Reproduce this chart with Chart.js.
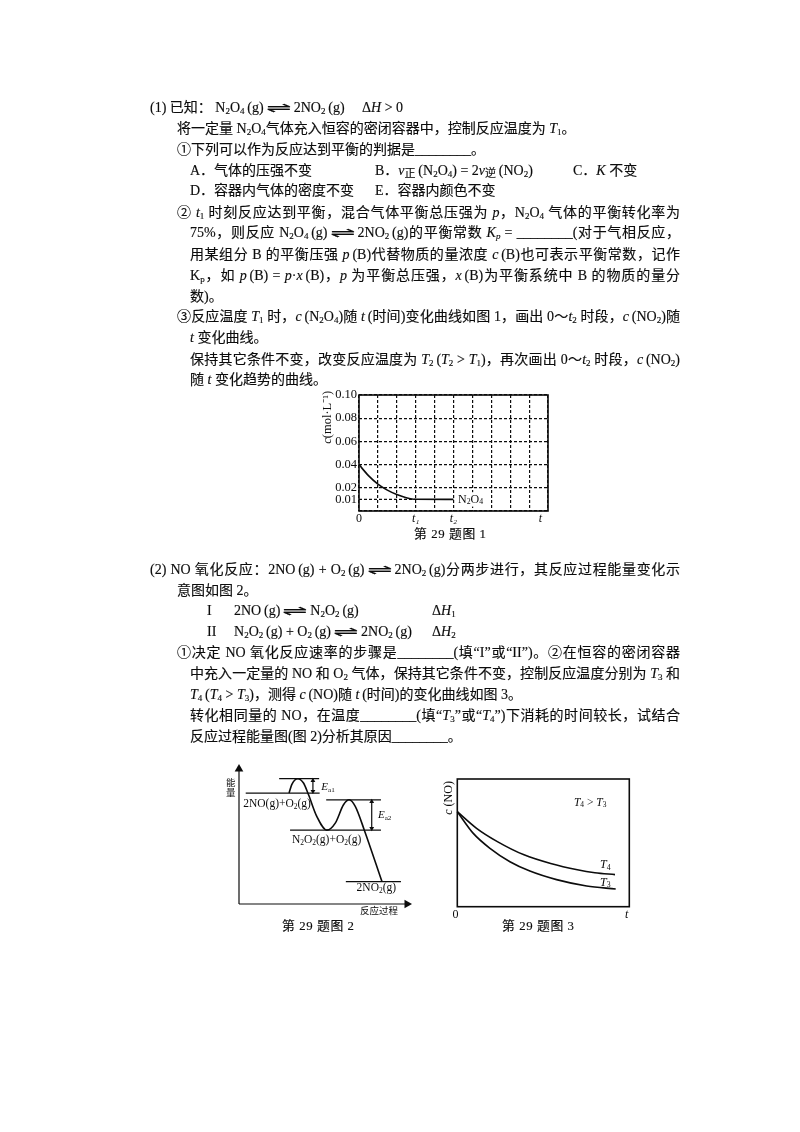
<!DOCTYPE html>
<html lang="zh">
<head>
<meta charset="utf-8">
<title>第 29 题</title>
<script src="https://cdn.jsdelivr.net/npm/chart.js@4/dist/chart.umd.min.js"></script>
<style>
html, body { margin: 0; padding: 0; background: #fff; }
#page { position: relative; width: 800px; height: 1132px; overflow: hidden; filter: blur(0.45px); color: #0c0c0c;
  font-family: "Liberation Serif", "Noto Sans CJK SC", serif; font-size: 14px; line-height: 20px; -webkit-text-stroke: 0.15px #0c0c0c; }
#page p { position: absolute; margin: 0; white-space: nowrap; }
#page p.full { white-space: normal; text-align: justify; text-align-last: justify; }
#page sub { font-size: 9px; line-height: 0; vertical-align: -2px; }
#page sub.cn { font-size: 11px; }
#page i { font-style: italic; }
#page .eq { display: inline-block; width: 26px; margin: 0 2px; text-align: center; text-align-last: center; font-family: "DejaVu Sans"; font-size: 13px; line-height: 12px; transform: scaleX(2.3); }
.cap { font-size: 12.8px; letter-spacing: 0.6px; }
canvas { position: absolute; }
</style>
</head>
<body>
<div id="page">
<p style="top:98px;left:150px">(1) 已知：&nbsp;N<sub>2</sub>O<sub>4</sub>&thinsp;(g)<span class="eq">⇌</span>2NO<sub>2</sub>&thinsp;(g)</p>
<p style="top:98px;left:362px">Δ<i>H</i> &gt; 0</p>
<p style="top:119px;left:177px">将一定量 N<sub>2</sub>O<sub>4</sub>气体充入恒容的密闭容器中，控制反应温度为 <i>T</i><sub>1</sub>。</p>
<p style="top:140px;left:177px">①下列可以作为反应达到平衡的判据是________。</p>
<p style="top:161px;left:190px">A．气体的压强不变</p>
<p style="top:161px;left:375px">B．<i>v</i><sub class="cn">正</sub>&thinsp;(N<sub>2</sub>O<sub>4</sub>) = 2<i>v</i><sub class="cn">逆</sub>&thinsp;(NO<sub>2</sub>)</p>
<p style="top:161px;left:573px">C．<i>K</i> 不变</p>
<p style="top:181px;left:190px">D．容器内气体的密度不变</p>
<p style="top:181px;left:375px">E．容器内颜色不变</p>
<p class="full" style="top:203px;left:177px;width:503px">② <i>t</i><sub>1</sub> 时刻反应达到平衡，混合气体平衡总压强为 <i>p</i>，N<sub>2</sub>O<sub>4</sub> 气体的平衡转化率为</p>
<p class="full" style="top:223px;left:190px;width:490px">75%，则反应 N<sub>2</sub>O<sub>4</sub>&thinsp;(g)<span class="eq">⇌</span>2NO<sub>2</sub>&thinsp;(g)的平衡常数 <i>K<sub>p</sub></i> = ________(对于气相反应，</p>
<p class="full" style="top:245px;left:190px;width:490px">用某组分 B 的平衡压强 <i>p</i>&thinsp;(B)代替物质的量浓度 <i>c</i>&thinsp;(B)也可表示平衡常数，记作</p>
<p class="full" style="top:266px;left:190px;width:490px">K<sub>p</sub>，如 <i>p</i>&thinsp;(B) = <i>p</i>·<i>x</i>&thinsp;(B)，<i>p</i> 为平衡总压强，<i>x</i>&thinsp;(B)为平衡系统中 B 的物质的量分</p>
<p style="top:287px;left:190px">数)。</p>
<p class="full" style="top:307px;left:177px;width:503px">③反应温度 <i>T</i><sub>1</sub> 时，<i>c</i>&thinsp;(N<sub>2</sub>O<sub>4</sub>)随 <i>t</i>&thinsp;(时间)变化曲线如图 1，画出 0～<i>t</i><sub>2</sub> 时段，<i>c</i>&thinsp;(NO<sub>2</sub>)随</p>
<p style="top:328px;left:190px"><i>t</i> 变化曲线。</p>
<p class="full" style="top:350px;left:190px;width:490px">保持其它条件不变，改变反应温度为 <i>T</i><sub>2</sub>&thinsp;(<i>T</i><sub>2</sub> &gt; <i>T</i><sub>1</sub>)，再次画出 0～<i>t</i><sub>2</sub> 时段，<i>c</i>&thinsp;(NO<sub>2</sub>)</p>
<p style="top:370px;left:190px">随 <i>t</i> 变化趋势的曲线。</p>
<p class="cap" style="top:524px;left:414px">第 29 题图 1</p>

<p class="full" style="top:560px;left:150px;width:530px">(2) NO 氧化反应：2NO&thinsp;(g) + O<sub>2</sub>&thinsp;(g)<span class="eq">⇌</span>2NO<sub>2</sub>&thinsp;(g)分两步进行，其反应过程能量变化示</p>
<p style="top:581px;left:177px">意图如图 2。</p>
<p style="top:601px;left:207px">I</p>
<p style="top:601px;left:234px">2NO&thinsp;(g)<span class="eq">⇌</span>N<sub>2</sub>O<sub>2</sub>&thinsp;(g)</p>
<p style="top:601px;left:432px">Δ<i>H</i><sub>1</sub></p>
<p style="top:622px;left:207px">II</p>
<p style="top:622px;left:234px">N<sub>2</sub>O<sub>2</sub>&thinsp;(g) + O<sub>2</sub>&thinsp;(g)<span class="eq">⇌</span>2NO<sub>2</sub>&thinsp;(g)</p>
<p style="top:622px;left:432px">Δ<i>H</i><sub>2</sub></p>
<p class="full" style="top:643px;left:177px;width:503px">①决定 NO 氧化反应速率的步骤是________(填“I”或“II”)。②在恒容的密闭容器</p>
<p class="full" style="top:664px;left:190px;width:490px">中充入一定量的 NO 和 O<sub>2</sub> 气体，保持其它条件不变，控制反应温度分别为 <i>T</i><sub>3</sub> 和</p>
<p style="top:685px;left:190px"><i>T</i><sub>4</sub>&thinsp;(<i>T</i><sub>4</sub> &gt; <i>T</i><sub>3</sub>)，测得 <i>c</i>&thinsp;(NO)随 <i>t</i>&thinsp;(时间)的变化曲线如图 3。</p>
<p class="full" style="top:706px;left:190px;width:490px">转化相同量的 NO，在温度________(填“<i>T</i><sub>3</sub>”或“<i>T</i><sub>4</sub>”)下消耗的时间较长，试结合</p>
<p style="top:727px;left:190px">反应过程能量图(图 2)分析其原因________。</p>
<p class="cap" style="top:916px;left:282px">第 29 题图 2</p>
<p class="cap" style="top:916px;left:502px">第 29 题图 3</p>

<canvas id="fig1" width="250" height="145" style="left:310px;top:385px"></canvas>
<canvas id="fig2" width="210" height="156" style="left:215px;top:760px"></canvas>
<canvas id="fig3" width="200" height="150" style="left:440px;top:770px"></canvas>
</div>
<script>
// figure 1: c(N2O4) against t
const fig1Times = [0, 0.5, 1, 1.5, 2, 2.5, 3, 5];
const fig1Conc = [0.04, 0.0305, 0.0232, 0.018, 0.0142, 0.0115, 0.0101, 0.01];
const fig1GuideX = [0, 3];
const fig1GuideY = [0.01, 0.01];
const fig1GridX = [0, 1, 2, 3, 4, 5, 6, 7, 8, 9, 10];
const fig1TickX = [0, 3, 5, 9.6];
const fig1TickXLabels = ['0', 't₁', 't₂', 't'];
const fig1TickY = [0, 0.01, 0.02, 0.04, 0.06, 0.08, 0.10];
const fig1TickYLabels = ['', '0.01', '0.02', '0.04', '0.06', '0.08', '0.10'];

// figure 2: energy profile, arbitrary units
const fig2CurveX = [29.8, 31.4, 35.0, 38.4, 41.4, 46.3, 52.3, 57.3, 62.2, 65.6, 69.2, 74.6, 85.1];
const fig2CurveY = [82.2, 88.4, 92.8, 89.6, 80.9, 64.9, 54.7, 59.9, 73.5, 77.2, 72.3, 54.7, 16.6];
const fig2Levels = [
  [4, 48, 82.2],
  [23.9, 47.7, 92.8],
  [30.4, 84.5, 54.7],
  [51.9, 84.5, 77.2],
  [63.6, 96.4, 16.6]
];

// figure 3: c(NO) against t
const fig3T4Times = [0, 11.2, 23.3, 38.8, 54.3, 69.8, 80, 91.7];
const fig3T4Conc = [74.4, 61.4, 51.0, 40.6, 33.8, 28.9, 26.6, 25.1];
const fig3T3Times = [0, 9.3, 19.0, 30.6, 42.2, 57.7, 75.2, 92.1];
const fig3T3Conc = [74.4, 57.4, 45.7, 35.2, 27.9, 21.2, 16.2, 13.8];
const fig3TickX = [-1, 98.5];
const fig3TickXLabels = ['0', 't'];

const INK = '#0c0c0c';
const SERIF = '"Liberation Serif", "Noto Sans CJK SC"';

function pairs(xs, ys) {
  return xs.map((x, i) => ({ x: x, y: ys[i] }));
}

function curve(xs, ys, width) {
  return { data: pairs(xs, ys), showLine: true, pointRadius: 0, borderColor: INK, borderWidth: width,
    cubicInterpolationMode: 'monotone', clip: false };
}

function segment(x1, y1, x2, y2, radius, rotation) {
  return { data: [{ x: x1, y: y1 }, { x: x2, y: y2 }], showLine: true, borderColor: INK, borderWidth: 1.2,
    pointRadius: radius, pointRotation: rotation, pointStyle: 'triangle',
    pointBackgroundColor: INK, pointBorderColor: INK, pointBorderWidth: 0, clip: false };
}

// writes "N_2O_4" and "*T*_3" style text with subscripts and italics
function drawNote(ctx, note, size) {
  const parts = note.text.split(/(\*[^*]+\*|_[a-z0-9]+)/).filter(Boolean);
  ctx.save();
  ctx.translate(note.px, note.py);
  if (note.rotate) ctx.rotate(note.rotate * Math.PI / 180);
  ctx.textBaseline = 'middle';
  ctx.textAlign = 'left';
  const runs = parts.map(part => {
    const sub = part[0] === '_';
    const ital = part[0] === '*';
    const s = sub ? size * 0.65 : size;
    const str = sub ? part.slice(1) : part.replace(/\*/g, '');
    const font = (ital ? 'italic ' : '') + s + 'px ' + SERIF;
    ctx.font = font;
    return { str: str, font: font, sub: sub, w: ctx.measureText(str).width };
  });
  if (note.clear) {
    ctx.fillStyle = '#fff';
    ctx.fillRect(-2, -size * 0.6, runs.reduce((t, r) => t + r.w, 0) + 4, size * 1.2);
  }
  ctx.fillStyle = INK;
  let pos = 0;
  runs.forEach(r => {
    ctx.font = r.font;
    ctx.fillText(r.str, pos, r.sub ? size * 0.25 : 0);
    pos += r.w;
  });
  ctx.restore();
}

function notesPlugin(id, notes, size, box) {
  return {
    id: id,
    afterDatasetsDraw(chart) {
      const ctx = chart.ctx;
      const xs = chart.scales.x;
      const ys = chart.scales.y;
      if (box) {
        const a = chart.chartArea;
        ctx.save();
        ctx.strokeStyle = INK;
        ctx.lineWidth = 1.6;
        ctx.strokeRect(a.left, a.top, a.right - a.left, a.bottom - a.top);
        ctx.restore();
      }
      notes.forEach(n => drawNote(ctx, {
        text: n.text, rotate: n.rotate, clear: n.clear,
        px: xs.getPixelForValue(n.x), py: ys.getPixelForValue(n.y)
      }, n.size || size));
    }
  };
}

const italicRest = ctx => ({ family: SERIF, size: 12, style: ctx.index ? 'italic' : 'normal' });

const guide = segment(fig1GuideX[0], fig1GuideY[0], fig1GuideX[1], fig1GuideY[1], 0, 0);
guide.borderDash = [3, 2];

new Chart(document.getElementById('fig1'), {
  type: 'scatter',
  data: { datasets: [curve(fig1Times, fig1Conc, 1.6), guide] },
  options: {
    responsive: false, animation: false,
    layout: { padding: { top: 10, right: 12, left: 0, bottom: 0 } },
    plugins: { legend: { display: false }, tooltip: { enabled: false } },
    scales: {
      x: {
        min: 0, max: 10,
        afterBuildTicks: s => { s.ticks = fig1GridX.map(v => ({ value: v })); },
        afterFit: s => { s.height = 0; },
        ticks: { display: false },
        grid: { color: INK, lineWidth: 1.2, drawTicks: false },
        border: { display: false, dash: [3, 2] }
      },
      x2: {
        type: 'linear', position: 'bottom', min: 0, max: 10,
        afterBuildTicks: s => { s.ticks = fig1TickX.map(v => ({ value: v })); },
        afterFit: s => { s.height = 19; },
        ticks: { callback: (v, i) => fig1TickXLabels[i], color: INK, font: italicRest, padding: 1, autoSkip: false, maxRotation: 0 },
        grid: { display: false, drawTicks: false },
        border: { display: false }
      },
      y: {
        min: 0, max: 0.10,
        afterBuildTicks: s => { s.ticks = fig1TickY.map(v => ({ value: v })); },
        afterFit: s => { s.width = 49; },
        ticks: { callback: (v, i) => fig1TickYLabels[i], color: INK, font: { family: SERIF, size: 12.5 }, padding: 2, autoSkip: false },
        // the 0.01 line only runs as far as the curve, see guide
        grid: { color: c => (c.tick && c.tick.value === 0.01 ? 'transparent' : INK), lineWidth: 1.2, drawTicks: false },
        border: { display: false, dash: [3, 2] }
      }
    }
  },
  plugins: [notesPlugin('fig1Notes', [
    { text: 'N_2O_4', x: 5.24, y: 0.01, size: 12, clear: true },
    { text: '*c*(mol·L⁻¹)', x: -1.64, y: 0.058, rotate: -90, size: 12.5 }
  ], 12, true)]
});

new Chart(document.getElementById('fig2'), {
  type: 'scatter',
  data: {
    datasets: [
      curve(fig2CurveX, fig2CurveY, 1.6),
      ...fig2Levels.map(l => segment(l[0], l[2], l[1], l[2], 0, 0)),
      segment(0, 0, 0, 100, [0, 5], [0, 0]),
      segment(0, 0, 100, 0, [0, 5], [0, 90]),
      segment(44, 91.5, 44, 83.5, 2.8, [0, 180]),
      segment(79, 75.9, 79, 56, 2.8, [0, 180])
    ]
  },
  options: {
    responsive: false, animation: false,
    layout: { padding: { left: 24, right: 18, top: 9, bottom: 12 } },
    plugins: { legend: { display: false }, tooltip: { enabled: false } },
    scales: {
      x: { display: false, min: 0, max: 100 },
      y: { display: false, min: 0, max: 100 }
    }
  },
  plugins: [notesPlugin('fig2Notes', [
    { text: '能', x: -7.7, y: 89, size: 9.5 },
    { text: '量', x: -7.7, y: 82, size: 9.5 },
    { text: '2NO(g)+O_2(g)', x: 2.5, y: 74, size: 11.5 },
    { text: 'N_2O_2(g)+O_2(g)', x: 31.5, y: 47.5, size: 11.5 },
    { text: '2NO_2(g)', x: 70, y: 11.5, size: 11.5 },
    { text: '*E*_a1', x: 49, y: 86.5, size: 11 },
    { text: '*E*_a2', x: 82.7, y: 66, size: 11 },
    { text: '反应过程', x: 72, y: -5.5, size: 9.5 }
  ], 11, false)]
});

new Chart(document.getElementById('fig3'), {
  type: 'scatter',
  data: { datasets: [curve(fig3T4Times, fig3T4Conc, 1.6), curve(fig3T3Times, fig3T3Conc, 1.6)] },
  options: {
    responsive: false, animation: false,
    layout: { padding: { left: 17.3, right: 10.7, top: 9, bottom: 0 } },
    plugins: { legend: { display: false }, tooltip: { enabled: false } },
    scales: {
      x: {
        min: 0, max: 100,
        afterBuildTicks: s => { s.ticks = fig3TickX.map(v => ({ value: v })); },
        afterFit: s => { s.height = 13.3; },
        ticks: { callback: (v, i) => fig3TickXLabels[i], color: INK, font: italicRest, padding: 1, autoSkip: false, maxRotation: 0 },
        grid: { display: false, drawTicks: false },
        border: { display: false }
      },
      y: { display: false, min: 0, max: 100 }
    }
  },
  plugins: [notesPlugin('fig3Notes', [
    { text: '*T*_4 > *T*_3', x: 67.8, y: 81.5, size: 11.5 },
    { text: '*T*_4', x: 83, y: 33, size: 12 },
    { text: '*T*_3', x: 83, y: 19, size: 12 },
    { text: '*c* (NO)', x: -4.8, y: 72, rotate: -90, size: 12 }
  ], 11, true)]
});
</script>
</body>
</html>
